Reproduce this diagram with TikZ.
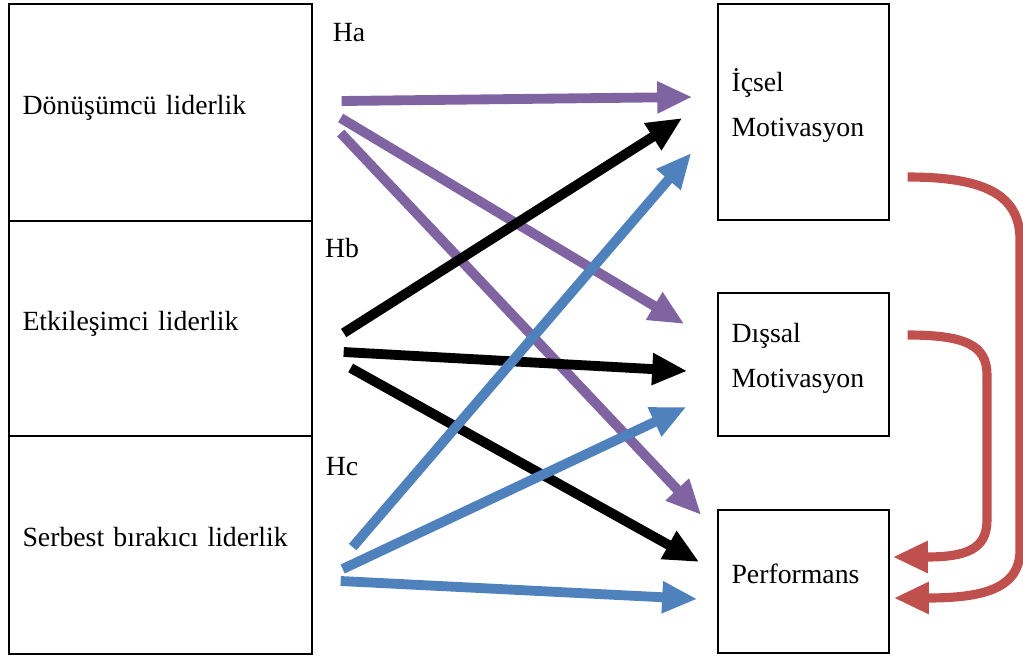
\documentclass[tikz,border=0pt]{standalone}
\usepackage{fontspec}
\setmainfont{Liberation Serif}
\usetikzlibrary{arrows.meta}

\definecolor{hpurple}{HTML}{8064A2}
\definecolor{hblue}{HTML}{4F81BD}
\definecolor{hred}{HTML}{C0504D}

\begin{document}
\begin{tikzpicture}[x=0.02cm, y=-0.02cm,
	box/.style={draw, line width=0.8pt, align=left, inner xsep=0.27cm, inner ysep=0pt,
		text depth=9pt, font=\fontsize{15.8}{25.5}\selectfont},
	lbox/.style={box, text width=5.52cm, minimum width=6.06cm},
	rbox/.style={box, text width=2.88cm, minimum width=3.42cm},
	twoline/.style={text depth=36pt},
	hyp/.style={font=\fontsize{15.8}{19}\selectfont},
	link/.style={line width=5.6pt, -{Triangle[length=20pt,width=17pt]}},
	back/.style={link, hred, line width=5.2pt}]
	\useasboundingbox (0,0) rectangle (1023,657);

	% leadership styles
	\node[lbox, minimum height=4.34cm] (don) at (160.5,112.5) {Dönüşümcü liderlik};
	\node[lbox, minimum height=4.30cm] (etk) at (160.5,328.5) {Etkileşimci liderlik};
	\node[lbox, minimum height=4.36cm] (ser) at (160.5,545) {Serbest bırakıcı liderlik};

	% outcomes
	\node[rbox, twoline, minimum height=4.32cm] (icsel) at (803.5,112) {İçsel\\Motivasyon};
	\node[rbox, twoline, minimum height=2.86cm] (dis) at (803.5,364.5) {Dışsal\\Motivasyon};
	\node[rbox, minimum height=2.86cm] (perf) at (803.5,581.5) {Performans};

	\node[hyp] (ha) at (349,33) {Ha};
	\node[hyp] (hb) at (342,248) {Hb};
	\node[hyp] (hc) at (342,467) {Hc};

	% Ha
	\draw[link, hpurple] ([shift={(29,-11.5)}]don.east) -- ([shift={(-25,-15)}]icsel.west);
	\draw[link, hpurple] ([shift={(28,5.5)}]don.east) -- ([shift={(-33,-40.5)}]dis.west);
	\draw[link, hpurple] ([shift={(28,20.5)}]don.east) -- ([shift={(-16,-66.5)}]perf.west);

	% Hb
	\draw[link, black] ([shift={(31,4.5)}]etk.east) -- ([shift={(-35,6)}]icsel.west);
	\draw[link, black] ([shift={(31,23.5)}]etk.east) -- ([shift={(-30,6.5)}]dis.west);
	\draw[link, black] ([shift={(38,39.5)}]etk.east) -- ([shift={(-18,-19.5)}]perf.west);

	% Hc
	\draw[link, hblue] ([shift={(40,2)}]ser.east) -- ([shift={(-26,41)}]icsel.west);
	\draw[link, hblue] ([shift={(30,24)}]ser.east) -- ([shift={(-31,42.5)}]dis.west);
	\draw[link, hblue] ([shift={(28,36)}]ser.east) -- ([shift={(-20,17.5)}]perf.west);

	% motivation -> performance
	\coordinate (r1) at ([shift={(18,65)}]icsel.east);
	\coordinate (r2) at ([shift={(18,-29.5)}]dis.east);
	\draw[back] (r1) .. controls (985,177) and (1020,195) .. (1020,240) -- (1020,550)
		.. controls (1020,590) and (980,598) .. ([shift={(4,16.5)}]perf.east);
	\draw[back] (r2) .. controls (965,335) and (987,345) .. (987,375) -- (987,520)
		.. controls (987,550) and (965,557) .. ([shift={(3,-24.5)}]perf.east);
\end{tikzpicture}
\end{document}
